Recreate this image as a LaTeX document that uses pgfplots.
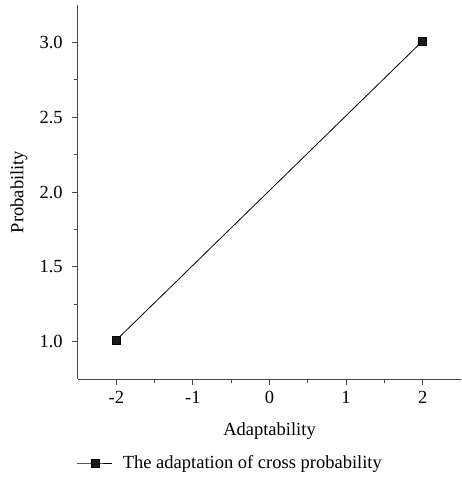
\documentclass[border=0pt]{standalone}
\usepackage{pgfplots}
\pgfplotsset{compat=1.18}
\usepackage{fontspec}
\setmainfont{Liberation Serif}
\begin{document}
\fontsize{18.5bp}{22bp}\selectfont
\begin{tikzpicture}
\begin{axis}[
  name=ax,
  scale only axis,
  width=383bp, height=374bp,
  xmin=-2.5, xmax=2.5, ymin=0.75, ymax=3.25,
  axis lines*=left,
  axis line style={draw=black!72, line width=1bp},
  xtick={-2,-1,0,1,2},
  xticklabels={-2,-1,0,1,2},
  ytick={1,1.5,2,2.5,3},
  yticklabel style={xshift=-3bp, /pgf/number format/fixed, /pgf/number format/fixed zerofill, /pgf/number format/precision=1, /pgf/number format/assume math mode=true},
  ticklabel style={font=\fontsize{18.5bp}{22bp}\selectfont},
  minor x tick num=1, minor y tick num=1,
  tick align=outside,
  major tick length=6bp, minor tick length=4bp,
  tick style={draw=black!72, line width=0.9bp},
  xlabel={Adaptability}, ylabel={Probability},
  label style={font=\fontsize{18.5bp}{22bp}\selectfont},
  every axis x label/.style={at={(axis description cs:0.5,-0.139)}, anchor=center},
  every axis y label/.style={at={(axis description cs:-0.154,0.5)}, anchor=center, rotate=90},
  legend style={at={(axis description cs:0.398,-0.2246)}, anchor=center, draw=none, fill=none, font=\fontsize{18.5bp}{22bp}\selectfont},
  legend cell align=left,
  legend image code/.code={\draw[mark repeat=2,mark phase=2,#1] plot coordinates {(0bp,0bp)(17.5bp,0bp)(35bp,0bp)};},
  clip=false,
]
\addplot[black, line width=0.8bp, mark=square*, mark size=4bp, mark options={fill=black!90}] coordinates {(-2,1.01) (2,3.01)};
\addlegendentry{\hspace{8bp}The adaptation of cross probability}
\end{axis}
\path ([xshift=-78bp,yshift=5bp]ax.north west) rectangle ([yshift=-108bp]ax.south east);
\end{tikzpicture}
\end{document}
